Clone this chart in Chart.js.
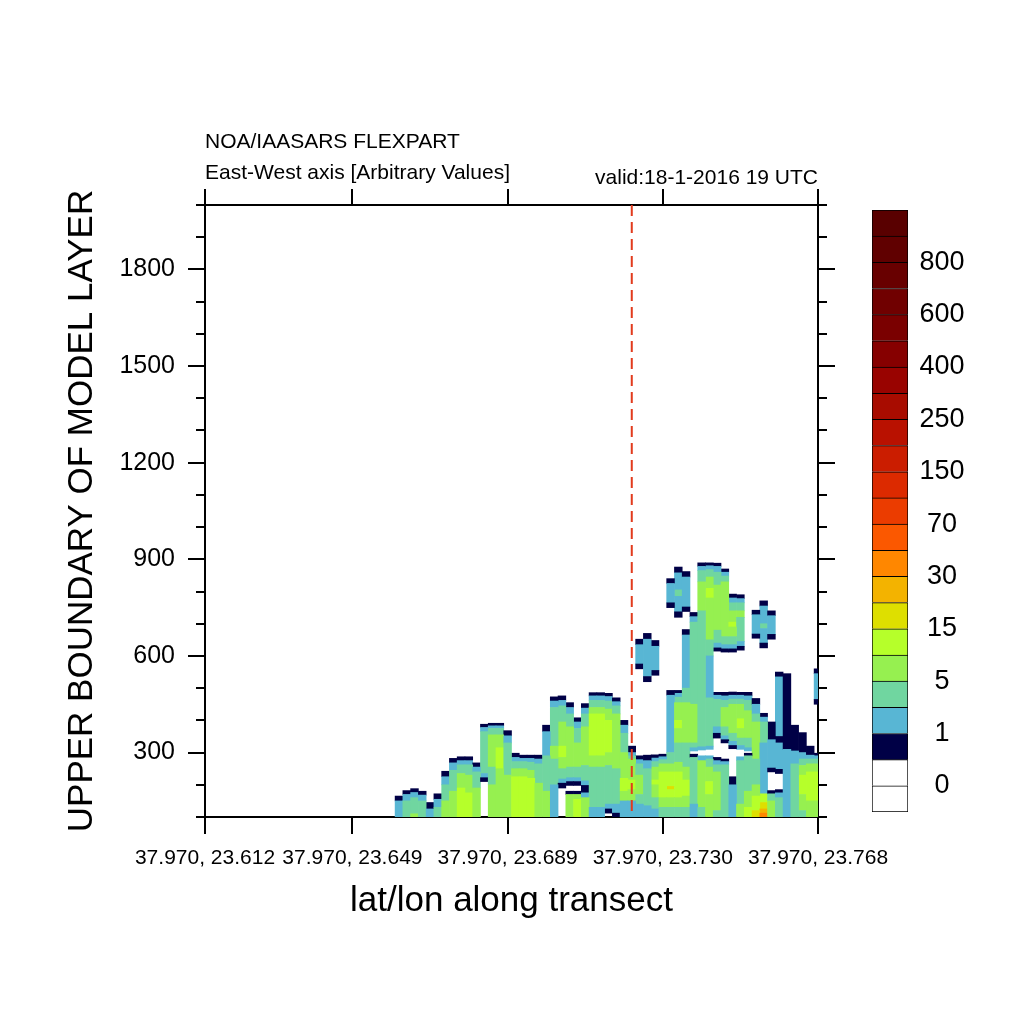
<!DOCTYPE html>
<html>
<head>
<meta charset="utf-8">
<script src="https://cdn.jsdelivr.net/npm/chart.js"></script>
<style>
html,body{margin:0;padding:0;background:#ffffff;}
#wrap{position:relative;width:1024px;height:1024px;background:#ffffff;}
#main{position:absolute;left:0;top:0;}
#bar{position:absolute;left:860px;top:181px;}
</style>
</head>
<body>
<div id="wrap">
<canvas id="main" width="1024" height="1024"></canvas>
<canvas id="bar" width="150" height="660"></canvas>
</div>
<script>
// ---------- texts ----------
const titleText = 'NOA/IAASARS FLEXPART';
const subtitleText = 'East-West axis [Arbitrary Values]';
const validText = 'valid:18-1-2016 19 UTC';
const xTitle = 'lat/lon along transect';
const yTitle = 'UPPER BOUNDARY OF MODEL LAYER';

// ---------- axes ----------
const xRange = [0, 79];
const yRange = [100, 2000];
const xTickIndex = [0, 19, 39, 59, 79];
const xTickLabels = ['37.970, 23.612', '37.970, 23.649', '37.970, 23.689', '37.970, 23.730', '37.970, 23.768'];
const yMajorTicks = [300, 600, 900, 1200, 1500, 1800];
const yMinorTicks = [100, 200, 300, 400, 500, 600, 700, 800, 900, 1000, 1100, 1200, 1300, 1400, 1500, 1600, 1700, 1800, 1900, 2000];
const transectIndex = 55;

// ---------- colour bar ----------
const colorbarColors = ['#FFFFFF', '#FFFFFF', '#000046', '#58B6D4', '#70D6A0', '#96F050', '#B6FF2A', '#DEDF00',
  '#F3B300', '#FF8700', '#FB5800', '#EB3C00', '#DC2A00', '#CB1D00', '#B91100', '#A80C00', '#990300',
  '#860000', '#7A0000', '#700000', '#680000', '#600000', '#590000'];
const colorbarTicks = [1, 3, 5, 7, 9, 11, 13, 15, 17, 19, 21];
const colorbarLabels = ['0', '1', '5', '15', '30', '70', '150', '250', '400', '600', '800'];

// ---------- field: per transect column, [contour level, upper height] from the ground up ----------
const firstColumn = 25;
const columnProfiles = [
  [[2,150],[1,165]],
  [[3,150],[2,170],[1,182]],
  [[4,110],[3,160],[2,176],[1,188]],
  [[3,150],[2,168],[1,180]],
  [[2,125],[1,145]],
  [[3,130],[2,155],[1,172]],
  [[4,150],[3,200],[2,225],[1,242]],
  [[4,180],[3,245],[2,268],[1,282]],
  [[5,190],[4,235],[3,262],[2,275],[1,287]],
  [[5,175],[4,230],[3,262],[2,275],[1,287]],
  [[4,190],[3,240],[2,255],[1,268]],
  [[0,210],[1,222],[2,235],[3,365],[2,378],[1,388]],
  [[4,200],[3,255],[4,355],[3,375],[2,383],[1,391]],
  [[4,250],[5,315],[4,355],[3,375],[2,383],[1,391]],
  [[4,230],[3,330],[2,352],[1,368]],
  [[5,225],[4,250],[3,272],[2,285],[1,298]],
  [[5,225],[4,250],[3,272],[2,282],[1,292]],
  [[5,220],[4,245],[3,270],[2,282],[1,292]],
  [[4,205],[3,265],[2,280],[1,292]],
  [[4,180],[3,290],[2,365],[1,385]],
  [[2,200],[3,280],[4,320],[3,440],[2,460],[1,473]],
  [[0,190],[1,205],[2,218],[3,250],[4,285],[5,320],[4,395],[3,445],[2,462],[1,476]],
  [[4,170],[1,180],[0,198],[1,210],[2,222],[3,255],[4,380],[3,420],[2,440],[1,455]],
  [[5,155],[4,170],[1,180],[0,198],[1,210],[2,222],[3,255],[4,330],[3,375],[2,395],[1,408]],
  [[4,160],[2,175],[1,198],[2,212],[3,260],[4,380],[3,420],[2,438],[1,452]],
  [[2,130],[3,255],[4,290],[5,420],[4,440],[3,462],[2,476],[1,486]],
  [[2,130],[3,255],[4,290],[5,420],[4,440],[3,462],[2,476],[1,486]],
  [[0,112],[1,125],[2,140],[3,260],[4,300],[5,400],[4,435],[3,460],[2,474],[1,484]],
  [[1,112],[2,140],[3,250],[4,420],[3,445],[2,458],[1,470]],
  [[2,150],[4,180],[5,220],[4,300],[3,360],[2,385],[1,400]],
  [[2,150],[4,185],[5,215],[4,280],[3,290],[2,300],[1,320]],
  [[2,140],[3,170],[4,230],[3,265],[2,278],[1,290],[0,560],[1,575],[2,635],[1,652]],
  [[2,135],[3,250],[2,275],[1,292],[0,520],[1,536],[2,652],[1,670]],
  [[2,125],[3,160],[4,200],[5,215],[4,255],[3,272],[2,283],[1,293],[0,540],[1,555],[2,630],[1,648]],
  [[3,130],[4,160],[5,240],[4,265],[3,278],[2,287],[1,295]],
  [[3,130],[4,160],[5,185],[6,195],[5,240],[4,265],[3,300],[2,478],[1,493],[0,750],[1,765],[2,825],[1,840]],
  [[3,130],[4,160],[5,240],[4,270],[3,330],[4,375],[5,400],[4,455],[3,472],[2,484],[1,493],[0,720],[1,737],[2,785],[3,805],[2,858],[1,876]],
  [[3,130],[4,165],[5,215],[4,255],[3,330],[4,455],[3,500],[2,665],[1,682],[0,738],[1,752],[2,845],[1,862]],
  [[2,140],[3,285],[1,295],[0,305],[2,315],[3,330],[4,450],[3,705],[2,722],[1,735]],
  [[3,130],[4,275],[2,290],[0,308],[2,318],[3,740],[4,830],[3,865],[2,878],[1,889]],
  [[4,170],[5,210],[4,255],[3,280],[2,290],[0,310],[2,320],[3,470],[2,600],[3,650],[4,780],[5,810],[4,845],[3,868],[2,880],[1,889]],
  [[3,120],[4,240],[3,262],[2,275],[1,285],[0,345],[1,360],[2,380],[3,465],[2,478],[1,487],[0,615],[1,625],[2,640],[3,680],[4,820],[3,860],[2,878],[1,888]],
  [[3,262],[2,272],[1,280],[0,330],[1,340],[2,352],[3,380],[4,440],[3,462],[2,476],[1,487],[0,612],[1,622],[2,635],[3,660],[4,830],[3,848],[2,860],[1,870]],
  [[2,200],[1,225],[0,312],[1,322],[2,335],[3,360],[4,450],[3,466],[2,478],[1,488],[0,612],[1,622],[2,635],[3,660],[4,690],[5,705],[4,740],[3,765],[2,780],[1,792]],
  [[4,140],[3,275],[2,287],[0,310],[2,322],[3,345],[4,375],[5,405],[4,450],[3,466],[2,478],[1,487],[0,618],[1,630],[2,645],[3,720],[4,740],[3,765],[2,778],[1,790]],
  [[5,130],[4,180],[3,290],[1,298],[0,305],[2,315],[3,345],[4,430],[3,462],[2,476],[1,487]],
  [[6,120],[5,165],[4,200],[3,280],[4,395],[3,420],[2,450],[1,468],[0,655],[1,668],[2,728],[1,742]],
  [[8,112],[7,125],[6,145],[5,172],[2,330],[3,395],[2,410],[1,422],[0,625],[1,640],[2,685],[3,700],[2,755],[1,771]],
  [[4,150],[3,172],[1,182],[0,240],[1,252],[2,340],[1,395],[0,652],[1,667],[2,725],[1,740]],
  [[3,160],[2,175],[1,185],[0,235],[1,248],[2,330],[1,350],[2,535],[1,550]],
  [[2,310],[1,545]],
  [[3,265],[2,305],[1,385]],
  [[3,120],[4,170],[5,230],[4,260],[3,280],[2,300],[1,362]],
  [[4,150],[5,240],[4,265],[3,280],[2,292],[1,320]],
  [[4,150],[5,240],[4,265],[3,280],[2,290],[1,298],[0,450],[1,465],[2,545],[1,560]]
];

// ---------- build ----------
const FONT = '"Liberation Sans", Arial, Helvetica, sans-serif';
Chart.defaults.font.family = FONT;
Chart.defaults.color = '#000000';

const levelColor = lev => colorbarColors[lev + 1];

const segSets = [];
const maxSeg = Math.max(...columnProfiles.map(p => p.length));
for (let j = 0; j < maxSeg; j++) {
  const pts = [];
  columnProfiles.forEach((prof, k) => {
    if (j >= prof.length) return;
    const lev = prof[j][0];
    if (lev === 0) return;
    const lo = j === 0 ? yRange[0] : prof[j - 1][1];
    pts.push({ x: firstColumn + k, y: [lo, prof[j][1]], lev: lev });
  });
  segSets.push({
    type: 'bar',
    data: pts,
    order: 2,
    backgroundColor: c => (c.raw && c.raw.lev ? levelColor(c.raw.lev) : 'rgba(0,0,0,0)'),
    borderWidth: 0,
    barPercentage: 1,
    categoryPercentage: 1,
    xAxisID: 'x',
    yAxisID: 'y'
  });
}

const transectLine = {
  type: 'line',
  data: [{ x: transectIndex, y: yRange[1] }, { x: transectIndex, y: yRange[0] }],
  borderColor: '#E23B1D',
  borderWidth: 2,
  borderDash: [11, 6],
  pointRadius: 0,
  fill: false,
  order: 0,
  xAxisID: 'x',
  yAxisID: 'y'
};

const blackGrid = (len) => ({ drawOnChartArea: false, offset: false, drawTicks: true, tickLength: len, tickWidth: 2, tickColor: '#000000', color: '#000000', lineWidth: 2 });

new Chart(document.getElementById('main'), {
  type: 'bar',
  data: { datasets: [...segSets, transectLine] },
  options: {
    responsive: false,
    animation: false,
    events: [],
    layout: { padding: 0 },
    plugins: {
      legend: { display: false },
      tooltip: { enabled: false },
      title: {
        display: true, text: titleText, align: 'start', fullSize: false, color: '#000000',
        font: { size: 21, weight: 'normal', lineHeight: 1.2 }, padding: { top: 129.4, bottom: 0 }
      },
      subtitle: {
        display: true, text: subtitleText, align: 'start', fullSize: false, color: '#000000',
        font: { size: 21, weight: 'normal', lineHeight: 1.2 }, padding: { top: 5.8, bottom: 0 }
      }
    },
    scales: {
      x: {
        type: 'linear', position: 'bottom', min: xRange[0], max: xRange[1], offset: false, stacked: true, weight: 0,
        afterBuildTicks: s => { s.ticks = xTickIndex.map(v => ({ value: v })); },
        ticks: {
          autoSkip: false, maxRotation: 0, minRotation: 0, padding: 12, color: '#000000',
          font: { size: 21 },
          callback: v => { const i = xTickIndex.indexOf(v); return i >= 0 ? xTickLabels[i] : ''; }
        },
        grid: blackGrid(17),
        border: { display: true, color: '#000000', width: 2 },
        title: { display: true, text: xTitle, color: '#000000', font: { size: 35, lineHeight: 1.2 }, padding: { top: 0, bottom: 102 } },
        afterFit: s => { s.height = 207; }
      },
      xTop: {
        type: 'linear', position: 'top', min: xRange[0], max: xRange[1], offset: false, stacked: true, weight: 0,
        afterBuildTicks: s => { s.ticks = xTickIndex.map(v => ({ value: v })); },
        ticks: { display: false },
        grid: blackGrid(16),
        border: { display: true, color: '#000000', width: 2 },
        title: { display: true, text: validText, align: 'end', color: '#000000', font: { size: 21, lineHeight: 1.2 }, padding: { top: -20.2, bottom: 0 } },
        afterFit: s => { s.height = 19.4; }
      },
      y: {
        type: 'linear', position: 'left', min: yRange[0], max: yRange[1], weight: 0, beginAtZero: false,
        afterBuildTicks: s => { s.ticks = yMinorTicks.map(v => ({ value: v })); },
        ticks: { display: false },
        grid: blackGrid(9),
        border: { display: true, color: '#000000', width: 2 },
        afterFit: s => { s.width = 9; }
      },
      yMaj: {
        type: 'linear', position: 'left', min: yRange[0], max: yRange[1], weight: 1, beginAtZero: false,
        afterBuildTicks: s => { s.ticks = yMajorTicks.map(v => ({ value: v })); },
        ticks: { padding: 13, color: '#000000', font: { size: 25 }, callback: v => String(v) },
        grid: blackGrid(8),
        border: { display: false },
        title: { display: true, text: yTitle, color: '#000000', font: { size: 35, lineHeight: 1.2 }, padding: { top: 61.5, bottom: 0 } },
        afterFit: s => { s.width = 196; }
      },
      yR: {
        type: 'linear', position: 'right', min: yRange[0], max: yRange[1], weight: 0, beginAtZero: false,
        afterBuildTicks: s => { s.ticks = yMinorTicks.map(v => ({ value: v })); },
        ticks: { display: false },
        grid: blackGrid(9),
        border: { display: true, color: '#000000', width: 2 },
        afterFit: s => { s.width = 9; }
      },
      yRMaj: {
        type: 'linear', position: 'right', min: yRange[0], max: yRange[1], weight: 1, beginAtZero: false,
        afterBuildTicks: s => { s.ticks = yMajorTicks.map(v => ({ value: v })); },
        ticks: { display: false },
        grid: blackGrid(8),
        border: { display: false },
        afterFit: s => { s.width = 197; }
      }
    }
  }
});

// ---------- colour bar chart ----------
new Chart(document.getElementById('bar'), {
  type: 'bar',
  data: {
    labels: [''],
    datasets: colorbarColors.map((col, j) => ({
      data: [1],
      backgroundColor: col,
      borderColor: '#000000',
      borderWidth: 1,
      borderSkipped: j === 0 ? false : 'bottom',
      barPercentage: 1,
      categoryPercentage: 1
    }))
  },
  options: {
    responsive: false,
    animation: false,
    events: [],
    layout: { padding: { left: 12, top: 29, bottom: 29, right: 0 } },
    plugins: { legend: { display: false }, tooltip: { enabled: false } },
    scales: {
      x: { display: false, stacked: true },
      y: {
        stacked: true, position: 'right', min: 0, max: colorbarColors.length,
        afterBuildTicks: s => { s.ticks = colorbarTicks.map(v => ({ value: v })); },
        ticks: {
          autoSkip: false, padding: 11.5, crossAlign: 'center', color: '#000000', font: { size: 27 },
          callback: v => { const i = colorbarTicks.indexOf(v); return i >= 0 ? colorbarLabels[i] : ''; }
        },
        grid: { display: false, drawTicks: false },
        border: { display: false },
        afterFit: s => { s.width = 102; }
      }
    }
  }
});
</script>
</body>
</html>
